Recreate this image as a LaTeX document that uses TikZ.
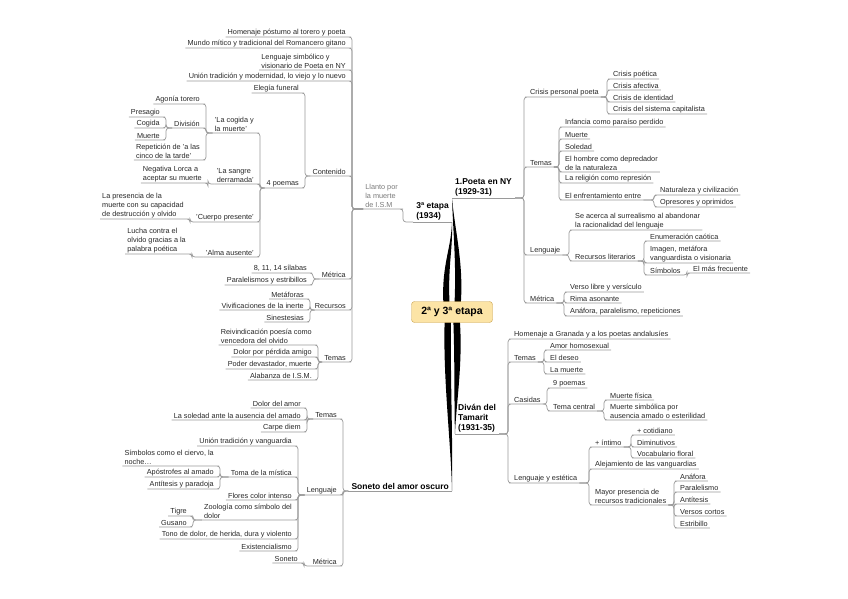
\documentclass[tikz,border=0pt]{standalone}
\usepackage{fontspec}
\setmainfont{Liberation Sans}
\usetikzlibrary{backgrounds}

\definecolor{lnk}{HTML}{9A9A9A}
\definecolor{txt}{HTML}{262626}
\definecolor{soft}{HTML}{7A7A7A}
\definecolor{hubfill}{HTML}{FCE4A6}
\definecolor{hubline}{HTML}{C9A14E}

\newcommand\topicfont{\fontsize{7.3pt}{8.8pt}\selectfont}
\newcommand\branchfont{\fontsize{8.5pt}{10.3pt}\selectfont\bfseries}
\newcommand\hubfont{\fontsize{10.5pt}{12pt}\selectfont\bfseries}

\begin{document}
\begin{tikzpicture}[x=1pt, y=-1pt,
  topic/.style={inner xsep=2pt, inner ysep=1.2pt, align=left, font=\topicfont, text=txt},
  topicR/.style={topic, anchor=south west},
  topicL/.style={topic, anchor=south east},
  mainR/.style={topicR, inner xsep=3pt, font=\branchfont, text=black},
  mainL/.style={topicL, inner xsep=3pt, font=\branchfont, text=black},
  hub/.style={draw=hubline, fill=hubfill, rounded corners=3pt, minimum width=81pt,
              minimum height=21pt, inner sep=2pt, font=\hubfont, text=black},
  uline/.style={draw=lnk, line width=0.7pt},
  linkR/.style={uline, rounded corners=3pt, to path={-| ([xshift=-#1]\tikztotarget.south west)
                -- (\tikztotarget.south west) -- (\tikztotarget.south east)}},
  linkR/.default=4pt,
  linkL/.style={uline, rounded corners=3pt, to path={-| ([xshift=#1]\tikztotarget.south east)
                -- (\tikztotarget.south east) -- (\tikztotarget.south west)}},
  linkL/.default=4pt,
  branch/.style={fill=black},
]
\useasboundingbox (0,0) rectangle (848,599);

\node[hub] (hub) at (452,312) {2ª y 3ª etapa};

% main topics
\node[mainL] (etapa3) at (452,222) {3ª etapa\\(1934)};
\node[mainR] (ny) at (452,198) {1.Poeta en NY\\(1929-31)};
\node[mainR] (divan) at (455,434) {Diván del\\Tamarit\\(1931-35)};
\node[mainL] (soneto) at (452,491) {Soneto del amor oscuro};

% Poeta en NY
\node[topicR] (crisis) at (528,97) {Crisis personal poeta};
\node[topicR] (temasNY) at (528,167) {Temas};
\node[topicR] (lengNY) at (528,255) {Lenguaje};
\node[topicR] (metNY) at (528,303) {Métrica};

\node[topicR] (crisisA) at (611,79) {Crisis poética};
\node[topicR] (crisisB) at (611,90) {Crisis afectiva};
\node[topicR] (crisisC) at (611,102) {Crisis de identidad};
\node[topicR] (crisisD) at (611,114) {Crisis del sistema capitalista};

\node[topicR] (infancia) at (563,127) {Infancia como paraíso perdido};
\node[topicR] (muerteNY) at (563,139) {Muerte};
\node[topicR] (soledad) at (563,151) {Soledad};
\node[topicR] (hombre) at (563,172) {El hombre como depredador\\de la naturaleza};
\node[topicR] (religion) at (563,183) {La religión como represión};
\node[topicR] (enfrent) at (563,200) {El enfrentamiento entre};
\node[topicR] (natur) at (658,195) {Naturaleza y civilización};
\node[topicR] (opres) at (658,207) {Opresores y oprimidos};

\node[topicR] (surreal) at (573,230) {Se acerca al surrealismo al abandonar\\la racionalidad del lenguaje};
\node[topicR] (recLit) at (573,261) {Recursos literarios};
\node[topicR] (enum) at (648,241) {Enumeración caótica};
\node[topicR] (imagen) at (648,263) {Imagen, metáfora\\vanguardista o visionaria};
\node[topicR] (simbolos) at (648,275) {Símbolos};
\node[topicR] (frecuente) at (691,273) {El más frecuente};

\node[topicR] (verso) at (568,292) {Verso libre y versículo};
\node[topicR] (rima) at (568,303) {Rima asonante};
\node[topicR] (anafNY) at (568,316) {Anáfora, paralelismo, repeticiones};

% Divan del Tamarit
\node[topicR] (homGran) at (512,339) {Homenaje a Granada y a los poetas andalusíes};
\node[topicR] (temasDiv) at (512,362) {Temas};
\node[topicR] (casidas) at (512,404) {Casidas};
\node[topicR] (lengEst) at (512,483) {Lenguaje y estética};

\node[topicR] (amor) at (548,350) {Amor homosexual};
\node[topicR] (deseo) at (548,362) {El deseo};
\node[topicR] (laMuerte) at (548,374) {La muerte};

\node[topicR] (nueve) at (551,388) {9 poemas};
\node[topicR] (temaCen) at (551,411) {Tema central};
\node[topicR] (fisica) at (608,400) {Muerte física};
\node[topicR] (simbolica) at (608,420) {Muerte simbólica por\\ausencia amado o esterilidad};

\node[topicR] (intimo) at (593,447) {+ íntimo};
\node[topicR] (alejam) at (593,469) {Alejamiento de las vanguardias};
\node[topicR] (mayor) at (593,505) {Mayor presencia de\\recursos tradicionales};
\node[topicR] (cotid) at (635,435) {+ cotidiano};
\node[topicR] (dimin) at (635,447) {Diminutivos};
\node[topicR] (vocab) at (635,458) {Vocabulario floral};
\node[topicR] (anafDiv) at (678,481) {Anáfora};
\node[topicR] (parale) at (678,492) {Paralelismo};
\node[topicR] (antit) at (678,504) {Antítesis};
\node[topicR] (versos) at (678,516) {Versos cortos};
\node[topicR] (estrib) at (678,528) {Estribillo};

% Llanto por la muerte de I.S.M.
\node[topicL, text=soft] (llanto) at (400,209) {Llanto por\\la muerte\\de I.S.M};

\node[topicL] (homen) at (348,37) {Homenaje póstumo al torero y poeta};
\node[topicL] (mundo) at (348,48) {Mundo mítico y tradicional del Romancero gitano};
\node[topicL] (lengSimb) at (348,70) {Lenguaje simbólico y\\visionario de Poeta en NY};
\node[topicL] (union) at (348,81) {Unión tradición y modernidad, lo viejo y lo nuevo};
\node[topicL] (contenido) at (348,176) {Contenido};
\node[topicL] (metLl) at (348,279) {Métrica};
\node[topicL] (recLl) at (348,310) {Recursos};
\node[topicL] (temasLl) at (348,362) {Temas};

\node[topicL] (elegia) at (301,93) {Elegía funeral};
\node[topicL] (cuatro) at (301,188) {4 poemas};

\node[topicL] (cogida) at (256,133) {'La cogida y\\la muerte'};
\node[topicL] (sangre) at (256,184) {'La sangre\\derramada'};
\node[topicL] (cuerpo) at (256,222) {'Cuerpo presente'};
\node[topicL] (alma) at (256,257) {'Alma ausente'};

\node[topicL] (agonia) at (202,104) {Agonía torero};
\node[topicL] (division) at (202,128) {División};
\node[topicL] (repet) at (202,160) {Repetición de 'a las\\cinco de la tarde'};
\node[topicL] (presagio) at (162,117) {Presagio};
\node[topicL] (cogidaB) at (162,128) {Cogida};
\node[topicL] (muerteDiv) at (162,140) {Muerte};

\node[topicL] (negativa) at (204,183) {Negativa Lorca a\\aceptar su muerte};
\node[topicL] (presencia) at (186,219) {La presencia de la\\muerte con su capacidad\\de destrucción y olvido};
\node[topicL] (lucha) at (188,254) {Lucha contra el\\olvido gracias a la\\palabra poética};

\node[topicL] (silabas) at (309,273) {8, 11, 14 sílabas};
\node[topicL] (paralLl) at (309,285) {Paralelismos y estribillos};

\node[topicL] (metaf) at (306,299) {Metáforas};
\node[topicL] (vivif) at (306,310) {Vivificaciones de la inerte};
\node[topicL] (sinest) at (306,322) {Sinestesias};

\node[topicL] (reivind) at (314,345) {Reivindicación poesía como\\vencedora del olvido};
\node[topicL] (dolorAm) at (314,357) {Dolor por pérdida amigo};
\node[topicL] (poder) at (314,369) {Poder devastador, muerte};
\node[topicL] (alabanza) at (314,380) {Alabanza de I.S.M.};

% Soneto del amor oscuro
\node[topicL] (temasSon) at (339,419) {Temas};
\node[topicL] (lengSon) at (339,495) {Lenguaje};
\node[topicL] (metSon) at (339,566) {Métrica};

\node[topicL] (dolorSon) at (303,408) {Dolor del amor};
\node[topicL] (soledadSon) at (303,420) {La soledad ante la ausencia del amado};
\node[topicL] (carpe) at (303,432) {Carpe diem};

\node[topicL] (unionSon) at (294,446) {Unión tradición y vanguardia};
\node[topicL] (toma) at (294,477) {Toma de la mística};
\node[topicL] (flores) at (294,500) {Flores color intenso};
\node[topicL] (zoo) at (294,520) {Zoología como símbolo del\\dolor};
\node[topicL] (tono) at (294,539) {Tono de dolor, de herida, dura y violento};
\node[topicL] (exist) at (294,551) {Existencialismo};

\node[topicL] (simbSon) at (216,466) {Símbolos como el ciervo, la\\noche\dots};
\node[topicL] (apost) at (216,477) {Apóstrofes al amado};
\node[topicL] (antitSon) at (216,489) {Antítesis y paradoja};

\node[topicL] (tigre) at (189,516) {Tigre};
\node[topicL] (gusano) at (189,527) {Gusano};

\node[topicL] (sonetoF) at (300,563) {Soneto};

% underlines of the main topics
\foreach \m in {etapa3,ny,divan,soneto}
  \draw[uline] (\m.south west) -- (\m.south east);

% connectors, right side
\foreach \c in {crisis,temasNY,lengNY,metNY} \draw[linkR] (ny.south east) to (\c);
\foreach \c in {crisisA,crisisB,crisisC,crisisD} \draw[linkR] (crisis.south east) to (\c);
\foreach \c in {infancia,muerteNY,soledad,hombre,religion,enfrent} \draw[linkR] (temasNY.south east) to (\c);
\foreach \c in {natur,opres} \draw[linkR] (enfrent.south east) to (\c);
\foreach \c in {surreal,recLit} \draw[linkR] (lengNY.south east) to (\c);
\foreach \c in {enum,imagen,simbolos} \draw[linkR] (recLit.south east) to (\c);
\draw[linkR] (simbolos.south east) to (frecuente);
\foreach \c in {verso,rima,anafNY} \draw[linkR] (metNY.south east) to (\c);

\foreach \c in {homGran,temasDiv,casidas,lengEst} \draw[linkR] (divan.south east) to (\c);
\foreach \c in {amor,deseo,laMuerte} \draw[linkR] (temasDiv.south east) to (\c);
\foreach \c in {nueve,temaCen} \draw[linkR] (casidas.south east) to (\c);
\foreach \c in {fisica,simbolica} \draw[linkR] (temaCen.south east) to (\c);
\foreach \c in {intimo,alejam,mayor} \draw[linkR] (lengEst.south east) to (\c);
\foreach \c in {cotid,dimin,vocab} \draw[linkR] (intimo.south east) to (\c);
\foreach \c in {anafDiv,parale,antit,versos,estrib} \draw[linkR] (mayor.south east) to (\c);

% connectors, left side
\draw[linkL=3pt] (etapa3.south west) to (llanto);
\foreach \c in {homen,mundo,lengSimb,union,contenido,metLl,recLl,temasLl} \draw[linkL] (llanto.south west) to (\c);
\foreach \c in {elegia,cuatro} \draw[linkL] (contenido.south west) to (\c);
\foreach \c in {cogida,sangre,cuerpo,alma} \draw[linkL] (cuatro.south west) to (\c);
\foreach \c in {agonia,division,repet} \draw[linkL] (cogida.south west) to (\c);
\foreach \c in {presagio,cogidaB,muerteDiv} \draw[linkL] (division.south west) to (\c);
\draw[linkL] (sangre.south west) to (negativa);
\draw[linkL] (cuerpo.south west) to (presencia);
\draw[linkL] (alma.south west) to (lucha);
\foreach \c in {silabas,paralLl} \draw[linkL] (metLl.south west) to (\c);
\foreach \c in {metaf,vivif,sinest} \draw[linkL] (recLl.south west) to (\c);
\foreach \c in {reivind,dolorAm,poder,alabanza} \draw[linkL] (temasLl.south west) to (\c);

\foreach \c in {temasSon,lengSon,metSon} \draw[linkL] (soneto.south west) to (\c);
\foreach \c in {dolorSon,soledadSon,carpe} \draw[linkL] (temasSon.south west) to (\c);
\foreach \c in {unionSon,toma,flores,zoo,tono,exist} \draw[linkL] (lengSon.south west) to (\c);
\foreach \c in {simbSon,apost,antitSon} \draw[linkL] (toma.south west) to (\c);
\foreach \c in {tigre,gusano} \draw[linkL] (zoo.south west) to (\c);
\draw[linkL] (metSon.south west) to (sonetoF);

% tapered branches from the central topic
\begin{scope}[on background layer]
\fill[branch] ([xshift=-8pt]hub.center) .. controls +(-4,-45) and +(-1,30) .. (etapa3.south east)
  .. controls +(1,30) and +(-3,-45) .. ([xshift=-2pt]hub.center) -- cycle;
\fill[branch] ([xshift=2pt]hub.center) .. controls +(3,-45) and +(1,35) .. (ny.south west)
  .. controls +(3,35) and +(5,-45) .. ([xshift=8pt]hub.center) -- cycle;
\fill[branch] ([xshift=1pt]hub.center) .. controls +(2,45) and +(-1,-30) .. (divan.south west)
  .. controls +(1,-30) and +(5,45) .. ([xshift=7pt]hub.center) -- cycle;
\fill[branch] ([xshift=-7pt]hub.center) .. controls +(-3,60) and +(-1,-50) .. (soneto.south east)
  .. controls +(1,-50) and +(-1,60) .. ([xshift=-1pt]hub.center) -- cycle;
\end{scope}
\end{tikzpicture}
\end{document}
